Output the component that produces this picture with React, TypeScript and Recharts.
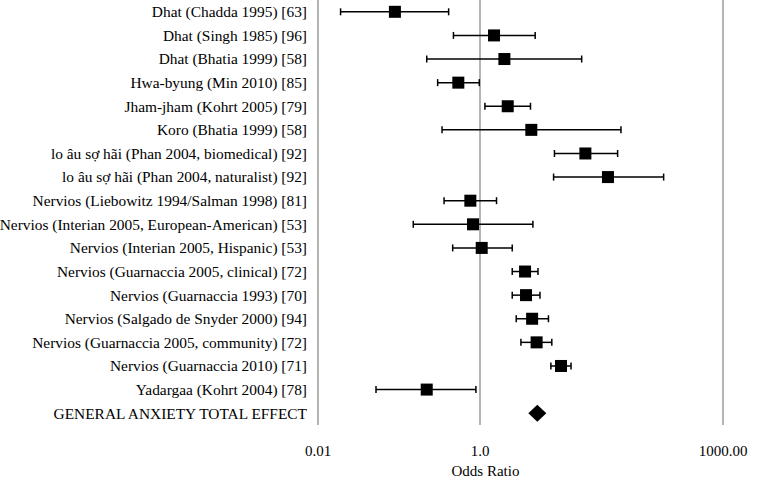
import React from "react";
import {
  ScatterChart,
  Scatter,
  XAxis,
  YAxis,
  CartesianGrid,
  ErrorBar,
  Label,
} from "recharts";

const studyLabels = [
  "Dhat (Chadda 1995) [63]",
  "Dhat (Singh 1985) [96]",
  "Dhat (Bhatia 1999) [58]",
  "Hwa-byung (Min 2010) [85]",
  "Jham-jham (Kohrt 2005) [79]",
  "Koro (Bhatia 1999) [58]",
  "lo âu sợ hãi (Phan 2004, biomedical) [92]",
  "lo âu sợ hãi (Phan 2004, naturalist) [92]",
  "Nervios (Liebowitz 1994/Salman 1998) [81]",
  "Nervios (Interian 2005, European-American) [53]",
  "Nervios (Interian 2005, Hispanic) [53]",
  "Nervios (Guarnaccia 2005, clinical) [72]",
  "Nervios (Guarnaccia 1993) [70]",
  "Nervios (Salgado de Snyder 2000) [94]",
  "Nervios (Guarnaccia 2005, community) [72]",
  "Nervios (Guarnaccia 2010) [71]",
  "Yadargaa (Kohrt 2004) [78]",
];
const totalLabel = "GENERAL ANXIETY TOTAL EFFECT";

const oddsRatio = [0.089, 1.49, 2.0, 0.54, 2.2, 4.3, 20, 38, 0.76, 0.82, 1.05, 3.6, 3.7, 4.4, 5.0, 10, 0.22];
const ciLow = [0.019, 0.47, 0.22, 0.3, 1.15, 0.34, 8.3, 8.1, 0.36, 0.15, 0.46, 2.5, 2.5, 2.8, 3.2, 7.5, 0.052];
const ciHigh = [0.41, 4.8, 18, 0.98, 4.2, 55, 50, 185, 1.6, 4.5, 2.5, 5.2, 5.5, 7.0, 7.7, 13.3, 0.89];
const totalEffect = 5.1;

const xTicks = [0.01, 1, 1000];
const xTickLabels = ["0.01", "1.0", "1000.00"];

const allLabels = [...studyLabels, totalLabel];

const studyData = studyLabels.map((name, i) => ({
  name,
  y: i,
  x: oddsRatio[i],
  err: [oddsRatio[i] - ciLow[i], ciHigh[i] - oddsRatio[i]],
}));
const totalData = [{ name: totalLabel, y: studyLabels.length, x: totalEffect }];

const FONT = "'Liberation Serif', 'Times New Roman', serif";

const SquareShape = (props: any) => {
  const { cx, cy } = props;
  if (cx == null || cy == null) return null;
  return <rect x={cx - 6} y={cy - 6} width={12} height={12} fill="#000" />;
};

const DiamondShape = (props: any) => {
  const { cx, cy } = props;
  if (cx == null || cy == null) return null;
  return (
    <polygon
      points={`${cx - 9},${cy} ${cx},${cy - 8.5} ${cx + 9},${cy} ${cx},${cy + 8.5}`}
      fill="#000"
    />
  );
};

const YTick = (props: any) => {
  const { x, y, payload } = props;
  return (
    <text
      x={x}
      y={y}
      dy={5.4}
      textAnchor="end"
      fill="#000"
      fontSize={15.4}
      fontFamily={FONT}
    >
      {allLabels[payload.value] ?? ""}
    </text>
  );
};

const XTick = (props: any) => {
  const { x, y, payload } = props;
  return (
    <text
      x={x}
      y={y}
      dy={10.6}
      textAnchor="middle"
      fill="#000"
      fontSize={15}
      fontFamily={FONT}
    >
      {xTickLabels[xTicks.indexOf(payload.value)] ?? String(payload.value)}
    </text>
  );
};

export default function App() {
  return (
    <div style={{ position: "absolute", left: 0, top: 0, background: "#fff", fontFamily: FONT }}>
      <ScatterChart
        width={759}
        height={480}
        margin={{ top: 0, right: 36, left: 0, bottom: 0 }}
        style={{ fontFamily: FONT }}
      >
        <CartesianGrid horizontal={false} stroke="#8c8c8c" strokeWidth={1.3} />
        <XAxis
          type="number"
          dataKey="x"
          scale="log"
          domain={[0.01, 1000]}
          ticks={xTicks}
          allowDataOverflow
          axisLine={false}
          tickLine={false}
          tickSize={0}
          tickMargin={20}
          height={55}
          interval={0}
          tick={<XTick />}
        >
          <Label
            value="Odds Ratio"
            position="insideBottom"
            offset={4}
            dx={-35}
            fontSize={15}
            fontFamily={FONT}
            fill="#000"
          />
        </XAxis>
        <YAxis
          type="number"
          dataKey="y"
          domain={[-0.5, allLabels.length - 0.5]}
          ticks={allLabels.map((_, i) => i)}
          reversed
          interval={0}
          width={318}
          axisLine={false}
          tickLine={false}
          tickSize={0}
          tickMargin={11}
          tick={<YTick />}
        />
        <Scatter data={studyData} shape={SquareShape} isAnimationActive={false}>
          <ErrorBar
            dataKey="err"
            direction="x"
            width={3.5}
            stroke="#000"
            strokeWidth={1.5}
            isAnimationActive={false}
          />
        </Scatter>
        <Scatter data={totalData} shape={DiamondShape} isAnimationActive={false} />
      </ScatterChart>
    </div>
  );
}
